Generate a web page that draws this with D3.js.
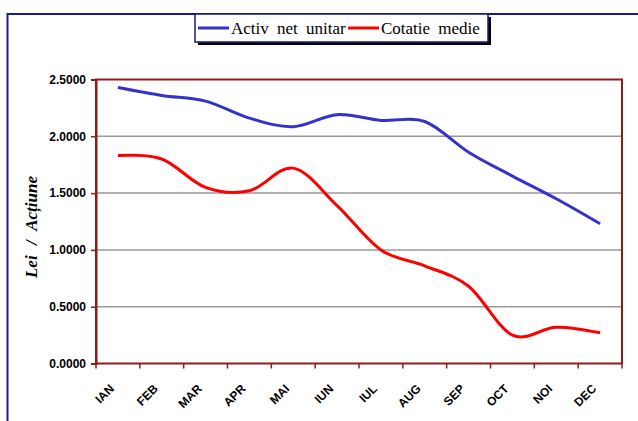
<!DOCTYPE html>
<html>
<head>
<meta charset="utf-8">
<script src="https://cdn.jsdelivr.net/npm/d3@7"></script>
<style>
  body { margin: 0; background: #fff; }
  .tick-y text, .tick-x text { font-family: Arial, "Liberation Sans", sans-serif; font-weight: bold; }
</style>
</head>
<body>
<div id="chart"></div>
<script>
"use strict";

// months on the x axis
const months = ['IAN', 'FEB', 'MAR', 'APR', 'MAI', 'IUN', 'IUL', 'AUG', 'SEP', 'OCT', 'NOI', 'DEC'];
// values
const activNet = [2.43, 2.36, 2.31, 2.16, 2.085, 2.19, 2.14, 2.13, 1.86, 1.65, 1.45, 1.23];
const cotatie = [1.83, 1.80, 1.55, 1.52, 1.72, 1.39, 1.00, 0.86, 0.68, 0.25, 0.32, 0.27];
const yTicks = [0, 0.5, 1.0, 1.5, 2.0, 2.5];
const seriesNames = ['Activ net unitar', 'Cotatie medie'];

(function () {
  let width = 638, height = 421;
  let plot = {left: 96, right: 622, top: 79.5, bottom: 363.5};

  let svg = d3.select('#chart').append('svg')
    .attr('width', width)
    .attr('height', height);

  // outer frame, cropped on right and bottom
  svg.append('rect')
    .attr('x', 7.5).attr('y', 14)
    .attr('width', 700).attr('height', 500)
    .attr('fill', 'none')
    .attr('stroke', '#1a1a8c')
    .attr('stroke-width', 2);

  let x = d3.scaleBand().domain(months).range([plot.left, plot.right]);
  let y = d3.scaleLinear().domain([0, 2.5]).range([plot.bottom, plot.top]);

  // gridlines
  svg.append('g').selectAll('line')
    .data(yTicks.filter(d => d > 0 && d < 2.5))
    .enter().append('line')
    .attr('x1', plot.left).attr('x2', plot.right)
    .attr('y1', d => y(d)).attr('y2', d => y(d))
    .attr('stroke', '#999')
    .attr('stroke-width', 1.5);

  // plot border
  svg.append('rect')
    .attr('x', plot.left).attr('y', plot.top)
    .attr('width', plot.right - plot.left)
    .attr('height', plot.bottom - plot.top)
    .attr('fill', 'none')
    .attr('stroke', '#8c1c1c')
    .attr('stroke-width', 2);

  // y axis
  let yAxis = d3.axisLeft(y)
    .tickValues(yTicks)
    .tickFormat(d3.format('.4f'))
    .tickSize(5)
    .tickPadding(5);
  let gy = svg.append('g')
    .attr('class', 'tick-y')
    .attr('transform', 'translate(' + plot.left + ',0)')
    .call(yAxis);
  gy.select('.domain').attr('stroke', '#8c1c1c').attr('stroke-width', 2);
  gy.selectAll('.tick line').attr('stroke', '#8c1c1c').attr('stroke-width', 1.5);
  gy.selectAll('.tick text').attr('font-size', 12).attr('fill', '#000');

  // x axis ticks at the category boundaries
  let bounds = months.map(m => x(m)).concat([plot.right]);
  svg.append('g').selectAll('line')
    .data(bounds)
    .enter().append('line')
    .attr('x1', d => d).attr('x2', d => d)
    .attr('y1', plot.bottom).attr('y2', plot.bottom + 5)
    .attr('stroke', '#8c1c1c')
    .attr('stroke-width', 1.5);

  svg.append('g').attr('class', 'tick-x').selectAll('text')
    .data(months)
    .enter().append('text')
    .attr('transform', d => 'translate(' + (x(d) + x.bandwidth() / 2 - 9) + ',' + (plot.bottom + 20) + ') rotate(-45)')
    .attr('text-anchor', 'end')
    .attr('dy', '0.7em')
    .attr('font-size', 12)
    .text(d => d);

  // y title
  svg.append('text')
    .attr('transform', 'translate(37,' + 227 + ') rotate(-90)')
    .attr('text-anchor', 'middle')
    .attr('font-family', '"Liberation Serif", "Times New Roman", serif')
    .attr('font-weight', 'bold')
    .attr('font-style', 'italic')
    .attr('font-size', 17)
    .attr('word-spacing', 6)
    .text('Lei / Acțiune');

  // lines
  let line = d3.line()
    .x((d, i) => x(months[i]) + x.bandwidth() / 2)
    .y(d => y(d))
    .curve(d3.curveCatmullRom.alpha(0));

  svg.append('path')
    .datum(activNet)
    .attr('d', line)
    .attr('fill', 'none')
    .attr('stroke', '#3333cc')
    .attr('stroke-width', 3);

  svg.append('path')
    .datum(cotatie)
    .attr('d', line)
    .attr('fill', 'none')
    .attr('stroke', '#ff0000')
    .attr('stroke-width', 3);

  // legend
  let legend = svg.append('g');
  legend.append('rect')
    .attr('x', 198).attr('y', 17)
    .attr('width', 293).attr('height', 28)
    .attr('fill', '#000');
  legend.append('rect')
    .attr('x', 195).attr('y', 14)
    .attr('width', 293).attr('height', 28)
    .attr('fill', '#fff')
    .attr('stroke', '#1a1a8c')
    .attr('stroke-width', 1.5);

  let items = [
    {name: seriesNames[0], color: '#3333cc', x: 198},
    {name: seriesNames[1], color: '#ff0000', x: 348}
  ];
  items.forEach(function (it) {
    legend.append('line')
      .attr('x1', it.x).attr('x2', it.x + 31)
      .attr('y1', 28).attr('y2', 28)
      .attr('stroke', it.color)
      .attr('stroke-width', 3);
    legend.append('text')
      .attr('x', it.x + 33).attr('y', 34)
      .attr('font-family', '"Liberation Serif", "Times New Roman", serif')
      .attr('font-size', 17)
      .attr('word-spacing', 4)
      .text(it.name);
  });
})();
</script>
</body>
</html>
